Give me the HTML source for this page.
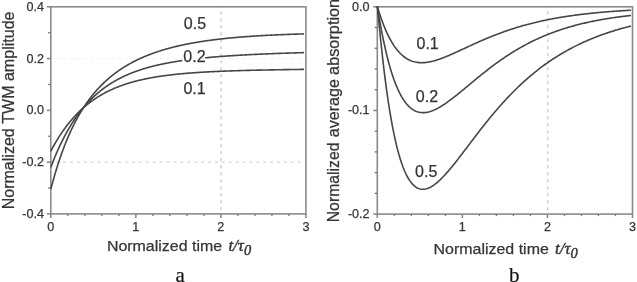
<!DOCTYPE html>
<html><head><meta charset="utf-8"><style>
html,body{margin:0;padding:0;background:#fff;}
body{width:637px;height:282px;overflow:hidden;}
svg{display:block;will-change:transform;}
text{font-kerning:none;font-feature-settings:'kern' 0;stroke:#3a3a3a;stroke-width:0.25px;}
.tl{font-family:"Liberation Sans",sans-serif;font-size:12.6px;fill:#333;}
.cl{font-family:"Liberation Sans",sans-serif;font-size:16px;fill:#333;}
.at{font-family:"Liberation Sans",sans-serif;font-size:15.6px;fill:#333;}
.it{font-family:"Liberation Serif",serif;font-style:italic;font-size:17px;fill:#333;stroke-width:0.45px;}
.pl{font-family:"Liberation Serif",serif;font-size:21px;fill:#111;text-anchor:middle;}
</style></head><body>
<svg width="637" height="282" viewBox="0 0 637 282">
<rect width="637" height="282" fill="#fff"/>
<line x1="50.8" y1="58.57" x2="301.9" y2="58.57" stroke="#f3f3f3" stroke-width="1.2" stroke-dasharray="3 3.9" stroke-dashoffset="1.5"/>
<line x1="50.8" y1="162.13" x2="301.9" y2="162.13" stroke="#d6d6d6" stroke-width="1.2" stroke-dasharray="3 3.9" stroke-dashoffset="1.5"/>
<line x1="221.07" y1="5.8" x2="221.07" y2="213.9" stroke="#c2c2c2" stroke-width="1.2" stroke-dasharray="3 4" stroke-dashoffset="1.5"/>
<line x1="547.73" y1="5.8" x2="547.73" y2="214.1" stroke="#c2c2c2" stroke-width="1.2" stroke-dasharray="3 4" stroke-dashoffset="1.5"/>
<rect x="50.8" y="6.8" width="255.10" height="207.10" fill="none" stroke="#8a8a8a" stroke-width="1.6"/>
<line x1="50.80" y1="213.9" x2="50.80" y2="217.90" stroke="#8a8a8a" stroke-width="1.6"/>
<text x="50.80" y="230.8" text-anchor="middle" class="tl">0</text>
<line x1="67.81" y1="213.9" x2="67.81" y2="215.90" stroke="#7a7a7a" stroke-width="1.3"/>
<line x1="84.81" y1="213.9" x2="84.81" y2="215.90" stroke="#7a7a7a" stroke-width="1.3"/>
<line x1="101.82" y1="213.9" x2="101.82" y2="215.90" stroke="#7a7a7a" stroke-width="1.3"/>
<line x1="118.83" y1="213.9" x2="118.83" y2="215.90" stroke="#7a7a7a" stroke-width="1.3"/>
<line x1="135.83" y1="213.9" x2="135.83" y2="217.90" stroke="#8a8a8a" stroke-width="1.6"/>
<text x="135.83" y="230.8" text-anchor="middle" class="tl">1</text>
<line x1="152.84" y1="213.9" x2="152.84" y2="215.90" stroke="#7a7a7a" stroke-width="1.3"/>
<line x1="169.85" y1="213.9" x2="169.85" y2="215.90" stroke="#7a7a7a" stroke-width="1.3"/>
<line x1="186.85" y1="213.9" x2="186.85" y2="215.90" stroke="#7a7a7a" stroke-width="1.3"/>
<line x1="203.86" y1="213.9" x2="203.86" y2="215.90" stroke="#7a7a7a" stroke-width="1.3"/>
<line x1="220.87" y1="213.9" x2="220.87" y2="217.90" stroke="#8a8a8a" stroke-width="1.6"/>
<text x="220.87" y="230.8" text-anchor="middle" class="tl">2</text>
<line x1="237.87" y1="213.9" x2="237.87" y2="215.90" stroke="#7a7a7a" stroke-width="1.3"/>
<line x1="254.88" y1="213.9" x2="254.88" y2="215.90" stroke="#7a7a7a" stroke-width="1.3"/>
<line x1="271.89" y1="213.9" x2="271.89" y2="215.90" stroke="#7a7a7a" stroke-width="1.3"/>
<line x1="288.89" y1="213.9" x2="288.89" y2="215.90" stroke="#7a7a7a" stroke-width="1.3"/>
<line x1="305.90" y1="213.9" x2="305.90" y2="217.90" stroke="#8a8a8a" stroke-width="1.6"/>
<text x="305.90" y="230.8" text-anchor="middle" class="tl">3</text>
<line x1="46.80" y1="6.80" x2="50.8" y2="6.80" stroke="#8a8a8a" stroke-width="1.6"/>
<text x="43.9" y="10.80" text-anchor="end" class="tl">0.4</text>
<line x1="46.80" y1="58.57" x2="50.8" y2="58.57" stroke="#8a8a8a" stroke-width="1.6"/>
<text x="43.9" y="62.57" text-anchor="end" class="tl">0.2</text>
<line x1="46.80" y1="110.35" x2="50.8" y2="110.35" stroke="#8a8a8a" stroke-width="1.6"/>
<text x="43.9" y="114.35" text-anchor="end" class="tl">0.0</text>
<line x1="46.80" y1="162.13" x2="50.8" y2="162.13" stroke="#8a8a8a" stroke-width="1.6"/>
<text x="43.9" y="166.13" text-anchor="end" class="tl">-0.2</text>
<line x1="46.80" y1="213.90" x2="50.8" y2="213.90" stroke="#8a8a8a" stroke-width="1.6"/>
<text x="43.9" y="217.90" text-anchor="end" class="tl">-0.4</text>
<line x1="48.20" y1="32.69" x2="50.8" y2="32.69" stroke="#747474" stroke-width="1.3"/>
<line x1="48.20" y1="84.46" x2="50.8" y2="84.46" stroke="#747474" stroke-width="1.3"/>
<line x1="48.20" y1="136.24" x2="50.8" y2="136.24" stroke="#747474" stroke-width="1.3"/>
<line x1="48.20" y1="188.01" x2="50.8" y2="188.01" stroke="#747474" stroke-width="1.3"/>
<rect x="377.3" y="6.8" width="255.20" height="207.30" fill="none" stroke="#8a8a8a" stroke-width="1.6"/>
<line x1="377.30" y1="214.1" x2="377.30" y2="218.10" stroke="#8a8a8a" stroke-width="1.6"/>
<text x="377.30" y="230.8" text-anchor="middle" class="tl">0</text>
<line x1="394.31" y1="214.1" x2="394.31" y2="216.10" stroke="#7a7a7a" stroke-width="1.3"/>
<line x1="411.33" y1="214.1" x2="411.33" y2="216.10" stroke="#7a7a7a" stroke-width="1.3"/>
<line x1="428.34" y1="214.1" x2="428.34" y2="216.10" stroke="#7a7a7a" stroke-width="1.3"/>
<line x1="445.35" y1="214.1" x2="445.35" y2="216.10" stroke="#7a7a7a" stroke-width="1.3"/>
<line x1="462.37" y1="214.1" x2="462.37" y2="218.10" stroke="#8a8a8a" stroke-width="1.6"/>
<text x="462.37" y="230.8" text-anchor="middle" class="tl">1</text>
<line x1="479.38" y1="214.1" x2="479.38" y2="216.10" stroke="#7a7a7a" stroke-width="1.3"/>
<line x1="496.39" y1="214.1" x2="496.39" y2="216.10" stroke="#7a7a7a" stroke-width="1.3"/>
<line x1="513.41" y1="214.1" x2="513.41" y2="216.10" stroke="#7a7a7a" stroke-width="1.3"/>
<line x1="530.42" y1="214.1" x2="530.42" y2="216.10" stroke="#7a7a7a" stroke-width="1.3"/>
<line x1="547.43" y1="214.1" x2="547.43" y2="218.10" stroke="#8a8a8a" stroke-width="1.6"/>
<text x="547.43" y="230.8" text-anchor="middle" class="tl">2</text>
<line x1="564.45" y1="214.1" x2="564.45" y2="216.10" stroke="#7a7a7a" stroke-width="1.3"/>
<line x1="581.46" y1="214.1" x2="581.46" y2="216.10" stroke="#7a7a7a" stroke-width="1.3"/>
<line x1="598.47" y1="214.1" x2="598.47" y2="216.10" stroke="#7a7a7a" stroke-width="1.3"/>
<line x1="615.49" y1="214.1" x2="615.49" y2="216.10" stroke="#7a7a7a" stroke-width="1.3"/>
<line x1="632.50" y1="214.1" x2="632.50" y2="218.10" stroke="#8a8a8a" stroke-width="1.6"/>
<text x="632.50" y="230.8" text-anchor="middle" class="tl">3</text>
<line x1="373.30" y1="6.80" x2="377.3" y2="6.80" stroke="#8a8a8a" stroke-width="1.6"/>
<text x="369.6" y="10.80" text-anchor="end" class="tl">0.0</text>
<line x1="373.30" y1="110.45" x2="377.3" y2="110.45" stroke="#8a8a8a" stroke-width="1.6"/>
<text x="369.6" y="114.45" text-anchor="end" class="tl">-0.1</text>
<line x1="373.30" y1="214.10" x2="377.3" y2="214.10" stroke="#8a8a8a" stroke-width="1.6"/>
<text x="369.6" y="218.10" text-anchor="end" class="tl">-0.2</text>
<line x1="374.70" y1="27.53" x2="377.3" y2="27.53" stroke="#747474" stroke-width="1.3"/>
<line x1="374.70" y1="48.26" x2="377.3" y2="48.26" stroke="#747474" stroke-width="1.3"/>
<line x1="374.70" y1="68.99" x2="377.3" y2="68.99" stroke="#747474" stroke-width="1.3"/>
<line x1="374.70" y1="89.72" x2="377.3" y2="89.72" stroke="#747474" stroke-width="1.3"/>
<line x1="374.70" y1="131.18" x2="377.3" y2="131.18" stroke="#747474" stroke-width="1.3"/>
<line x1="374.70" y1="151.91" x2="377.3" y2="151.91" stroke="#747474" stroke-width="1.3"/>
<line x1="374.70" y1="172.64" x2="377.3" y2="172.64" stroke="#747474" stroke-width="1.3"/>
<line x1="374.70" y1="193.37" x2="377.3" y2="193.37" stroke="#747474" stroke-width="1.3"/>
<path d="M51.00,188.51 L51.50,186.60 L52.00,184.72 L52.50,182.87 L53.00,181.04 L53.50,179.24 L54.00,177.48 L54.50,175.73 L55.00,174.02 L55.50,172.33 L56.00,170.66 L56.50,169.02 L57.00,167.41 L57.50,165.81 L58.00,164.25 L58.50,162.70 L59.00,161.18 L59.50,159.68 L60.00,158.20 L60.50,156.74 L61.00,155.31 L61.50,153.89 L62.00,152.50 L62.50,151.13 L63.00,149.77 L63.50,148.44 L64.00,147.12 L64.50,145.82 L65.00,144.55 L65.50,143.29 L66.00,142.04 L66.50,140.82 L67.00,139.61 L67.50,138.42 L68.00,137.24 L68.50,136.08 L69.00,134.94 L69.50,133.81 L70.00,132.70 L70.50,131.61 L71.00,130.53 L71.50,129.46 L72.00,128.41 L72.50,127.37 L73.00,126.34 L73.50,125.33 L74.00,124.34 L74.50,123.35 L75.00,122.38 L75.50,121.43 L76.00,120.48 L76.50,119.55 L77.00,118.63 L77.50,117.72 L78.00,116.82 L78.50,115.94 L79.00,115.06 L79.50,114.20 L80.00,113.35 L80.50,112.51 L81.00,111.68 L81.50,110.86 L82.00,110.05 L82.50,109.25 L83.00,108.47 L83.50,107.69 L84.00,106.92 L84.50,106.16 L85.00,105.41 L85.50,104.67 L86.00,103.94 L86.50,103.22 L87.00,102.50 L87.50,101.80 L88.00,101.10 L88.50,100.41 L89.00,99.73 L89.50,99.06 L90.00,98.40 L90.50,97.75 L91.00,97.10 L91.50,96.46 L92.00,95.83 L92.50,95.20 L93.00,94.59 L93.50,93.98 L94.00,93.37 L94.50,92.78 L95.00,92.19 L95.50,91.61 L96.00,91.03 L96.50,90.46 L97.00,89.90 L97.50,89.35 L98.00,88.80 L98.50,88.26 L99.00,87.72 L99.50,87.19 L100.00,86.66 L100.50,86.15 L101.00,85.63 L101.50,85.13 L102.00,84.63 L102.50,84.13 L103.00,83.64 L103.50,83.15 L104.00,82.68 L104.50,82.20 L105.00,81.73 L105.50,81.27 L106.00,80.81 L106.50,80.36 L107.00,79.91 L107.50,79.46 L108.00,79.03 L108.50,78.59 L109.00,78.16 L109.50,77.74 L110.00,77.32 L110.50,76.90 L111.00,76.49 L111.50,76.08 L112.00,75.68 L112.50,75.28 L113.00,74.89 L113.50,74.50 L114.00,74.11 L114.50,73.73 L115.00,73.35 L115.50,72.98 L116.00,72.61 L116.50,72.24 L117.00,71.88 L117.50,71.52 L118.00,71.16 L118.50,70.81 L119.00,70.46 L119.50,70.12 L120.00,69.78 L120.50,69.44 L121.00,69.11 L121.50,68.78 L122.00,68.45 L122.50,68.12 L123.00,67.80 L123.50,67.49 L124.00,67.17 L124.50,66.86 L125.00,66.55 L125.50,66.25 L126.00,65.95 L126.50,65.65 L127.00,65.35 L127.50,65.06 L128.00,64.77 L128.50,64.48 L129.00,64.19 L129.50,63.91 L130.00,63.63 L130.50,63.36 L131.00,63.08 L131.50,62.81 L132.00,62.54 L132.50,62.28 L133.00,62.01 L133.50,61.75 L134.00,61.50 L134.50,61.24 L135.00,60.99 L135.50,60.74 L136.00,60.49 L136.50,60.24 L137.00,60.00 L137.50,59.76 L138.00,59.52 L138.50,59.28 L139.00,59.04 L139.50,58.81 L140.00,58.58 L140.50,58.35 L141.00,58.13 L141.50,57.90 L142.00,57.68 L142.50,57.46 L143.00,57.24 L143.50,57.03 L144.00,56.82 L144.50,56.60 L145.00,56.39 L145.50,56.19 L146.00,55.98 L146.50,55.78 L147.00,55.57 L147.50,55.37 L148.00,55.18 L148.50,54.98 L149.00,54.78 L149.50,54.59 L150.00,54.40 L150.50,54.21 L151.00,54.02 L151.50,53.84 L152.00,53.65 L152.50,53.47 L153.00,53.29 L153.50,53.11 L154.00,52.93 L154.50,52.75 L155.00,52.58 L155.50,52.41 L156.00,52.24 L156.50,52.07 L157.00,51.90 L157.50,51.73 L158.00,51.56 L158.50,51.40 L159.00,51.24 L159.50,51.08 L160.00,50.92 L160.50,50.76 L161.00,50.60 L161.50,50.45 L162.00,50.29 L162.50,50.14 L163.00,49.99 L163.50,49.84 L164.00,49.69 L164.50,49.54 L165.00,49.40 L165.50,49.25 L166.00,49.11 L166.50,48.97 L167.00,48.83 L167.50,48.69 L168.00,48.55 L168.50,48.41 L169.00,48.27 L169.50,48.14 L170.00,48.00 L170.50,47.87 L171.00,47.74 L171.50,47.61 L172.00,47.48 L172.50,47.35 L173.00,47.23 L173.50,47.10 L174.00,46.98 L174.50,46.85 L175.00,46.73 L175.50,46.61 L176.00,46.49 L176.50,46.37 L177.00,46.25 L177.50,46.13 L178.00,46.02 L178.50,45.90 L179.00,45.79 L179.50,45.67 L180.00,45.56 L180.50,45.45 L181.00,45.34 L181.50,45.23 L182.00,45.12 L182.50,45.01 L183.00,44.91 L183.50,44.80 L184.00,44.69 L184.50,44.59 L185.00,44.49 L185.50,44.38 L186.00,44.28 L186.50,44.18 L187.00,44.08 L187.50,43.98 L188.00,43.89 L188.50,43.79 L189.00,43.69 L189.50,43.60 L190.00,43.50 L190.50,43.41 L191.00,43.32 L191.50,43.22 L192.00,43.13 L192.50,43.04 L193.00,42.95 L193.50,42.86 L194.00,42.77 L194.50,42.69 L195.00,42.60 L195.50,42.51 L196.00,42.43 L196.50,42.34 L197.00,42.26 L197.50,42.17 L198.00,42.09 L198.50,42.01 L199.00,41.93 L199.50,41.85 L200.00,41.77 L200.50,41.69 L201.00,41.61 L201.50,41.53 L202.00,41.45 L202.50,41.38 L203.00,41.30 L203.50,41.23 L204.00,41.15 L204.50,41.08 L205.00,41.00 L205.50,40.93 L206.00,40.86 L206.50,40.79 L207.00,40.72 L207.50,40.64 L208.00,40.58 L208.50,40.51 L209.00,40.44 L209.50,40.37 L210.00,40.30 L210.50,40.23 L211.00,40.17 L211.50,40.10 L212.00,40.04 L212.50,39.97 L213.00,39.91 L213.50,39.84 L214.00,39.78 L214.50,39.72 L215.00,39.66 L215.50,39.59 L216.00,39.53 L216.50,39.47 L217.00,39.41 L217.50,39.35 L218.00,39.29 L218.50,39.23 L219.00,39.18 L219.50,39.12 L220.00,39.06 L220.50,39.00 L221.00,38.95 L221.50,38.89 L222.00,38.84 L222.50,38.78 L223.00,38.73 L223.50,38.67 L224.00,38.62 L224.50,38.57 L225.00,38.51 L225.50,38.46 L226.00,38.41 L226.50,38.36 L227.00,38.31 L227.50,38.26 L228.00,38.21 L228.50,38.16 L229.00,38.11 L229.50,38.06 L230.00,38.01 L230.50,37.96 L231.00,37.92 L231.50,37.87 L232.00,37.82 L232.50,37.78 L233.00,37.73 L233.50,37.68 L234.00,37.64 L234.50,37.59 L235.00,37.55 L235.50,37.50 L236.00,37.46 L236.50,37.42 L237.00,37.37 L237.50,37.33 L238.00,37.29 L238.50,37.25 L239.00,37.20 L239.50,37.16 L240.00,37.12 L240.50,37.08 L241.00,37.04 L241.50,37.00 L242.00,36.96 L242.50,36.92 L243.00,36.88 L243.50,36.84 L244.00,36.81 L244.50,36.77 L245.00,36.73 L245.50,36.69 L246.00,36.65 L246.50,36.62 L247.00,36.58 L247.50,36.55 L248.00,36.51 L248.50,36.47 L249.00,36.44 L249.50,36.40 L250.00,36.37 L250.50,36.33 L251.00,36.30 L251.50,36.27 L252.00,36.23 L252.50,36.20 L253.00,36.16 L253.50,36.13 L254.00,36.10 L254.50,36.07 L255.00,36.04 L255.50,36.00 L256.00,35.97 L256.50,35.94 L257.00,35.91 L257.50,35.88 L258.00,35.85 L258.50,35.82 L259.00,35.79 L259.50,35.76 L260.00,35.73 L260.50,35.70 L261.00,35.67 L261.50,35.64 L262.00,35.61 L262.50,35.58 L263.00,35.56 L263.50,35.53 L264.00,35.50 L264.50,35.47 L265.00,35.45 L265.50,35.42 L266.00,35.39 L266.50,35.37 L267.00,35.34 L267.50,35.31 L268.00,35.29 L268.50,35.26 L269.00,35.24 L269.50,35.21 L270.00,35.19 L270.50,35.16 L271.00,35.14 L271.50,35.11 L272.00,35.09 L272.50,35.06 L273.00,35.04 L273.50,35.02 L274.00,34.99 L274.50,34.97 L275.00,34.95 L275.50,34.92 L276.00,34.90 L276.50,34.88 L277.00,34.86 L277.50,34.83 L278.00,34.81 L278.50,34.79 L279.00,34.77 L279.50,34.75 L280.00,34.73 L280.50,34.70 L281.00,34.68 L281.50,34.66 L282.00,34.64 L282.50,34.62 L283.00,34.60 L283.50,34.58 L284.00,34.56 L284.50,34.54 L285.00,34.52 L285.50,34.50 L286.00,34.48 L286.50,34.46 L287.00,34.45 L287.50,34.43 L288.00,34.41 L288.50,34.39 L289.00,34.37 L289.50,34.35 L290.00,34.33 L290.50,34.32 L291.00,34.30 L291.50,34.28 L292.00,34.26 L292.50,34.25 L293.00,34.23 L293.50,34.21 L294.00,34.20 L294.50,34.18 L295.00,34.16 L295.50,34.15 L296.00,34.13 L296.50,34.11 L297.00,34.10 L297.50,34.08 L298.00,34.07 L298.50,34.05 L299.00,34.03 L299.50,34.02 L300.00,34.00 L300.50,33.99 L301.00,33.97 L301.50,33.96 L302.00,33.94 L302.50,33.93 L303.00,33.91 L303.40,33.90" fill="none" stroke="#464646" stroke-width="1.6" stroke-linecap="round" stroke-linejoin="round"/>
<path d="M51.00,166.82 L51.50,165.50 L52.00,164.20 L52.50,162.91 L53.00,161.64 L53.50,160.39 L54.00,159.15 L54.50,157.93 L55.00,156.72 L55.50,155.52 L56.00,154.35 L56.50,153.18 L57.00,152.03 L57.50,150.89 L58.00,149.77 L58.50,148.66 L59.00,147.57 L59.50,146.49 L60.00,145.42 L60.50,144.37 L61.00,143.33 L61.50,142.30 L62.00,141.28 L62.50,140.28 L63.00,139.29 L63.50,138.31 L64.00,137.34 L64.50,136.38 L65.00,135.44 L65.50,134.51 L66.00,133.59 L66.50,132.68 L67.00,131.78 L67.50,130.89 L68.00,130.02 L68.50,129.15 L69.00,128.30 L69.50,127.45 L70.00,126.62 L70.50,125.79 L71.00,124.98 L71.50,124.17 L72.00,123.38 L72.50,122.59 L73.00,121.82 L73.50,121.05 L74.00,120.29 L74.50,119.55 L75.00,118.81 L75.50,118.08 L76.00,117.36 L76.50,116.64 L77.00,115.94 L77.50,115.25 L78.00,114.56 L78.50,113.88 L79.00,113.21 L79.50,112.55 L80.00,111.89 L80.50,111.25 L81.00,110.61 L81.50,109.98 L82.00,109.35 L82.50,108.74 L83.00,108.13 L83.50,107.53 L84.00,106.93 L84.50,106.35 L85.00,105.77 L85.50,105.19 L86.00,104.63 L86.50,104.07 L87.00,103.51 L87.50,102.97 L88.00,102.43 L88.50,101.89 L89.00,101.36 L89.50,100.84 L90.00,100.33 L90.50,99.82 L91.00,99.32 L91.50,98.82 L92.00,98.33 L92.50,97.84 L93.00,97.36 L93.50,96.89 L94.00,96.42 L94.50,95.96 L95.00,95.50 L95.50,95.05 L96.00,94.60 L96.50,94.16 L97.00,93.73 L97.50,93.29 L98.00,92.87 L98.50,92.45 L99.00,92.03 L99.50,91.62 L100.00,91.21 L100.50,90.81 L101.00,90.41 L101.50,90.02 L102.00,89.63 L102.50,89.25 L103.00,88.87 L103.50,88.49 L104.00,88.12 L104.50,87.76 L105.00,87.39 L105.50,87.04 L106.00,86.68 L106.50,86.33 L107.00,85.99 L107.50,85.65 L108.00,85.31 L108.50,84.97 L109.00,84.64 L109.50,84.32 L110.00,83.99 L110.50,83.68 L111.00,83.36 L111.50,83.05 L112.00,82.74 L112.50,82.43 L113.00,82.13 L113.50,81.84 L114.00,81.54 L114.50,81.25 L115.00,80.96 L115.50,80.68 L116.00,80.39 L116.50,80.12 L117.00,79.84 L117.50,79.57 L118.00,79.30 L118.50,79.03 L119.00,78.77 L119.50,78.51 L120.00,78.25 L120.50,78.00 L121.00,77.75 L121.50,77.50 L122.00,77.25 L122.50,77.01 L123.00,76.77 L123.50,76.53 L124.00,76.29 L124.50,76.06 L125.00,75.83 L125.50,75.60 L126.00,75.38 L126.50,75.15 L127.00,74.93 L127.50,74.72 L128.00,74.50 L128.50,74.29 L129.00,74.08 L129.50,73.87 L130.00,73.66 L130.50,73.46 L131.00,73.26 L131.50,73.06 L132.00,72.86 L132.50,72.66 L133.00,72.47 L133.50,72.28 L134.00,72.09 L134.50,71.90 L135.00,71.72 L135.50,71.53 L136.00,71.35 L136.50,71.17 L137.00,71.00 L137.50,70.82 L138.00,70.65 L138.50,70.47 L139.00,70.30 L139.50,70.14 L140.00,69.97 L140.50,69.80 L141.00,69.64 L141.50,69.48 L142.00,69.32 L142.50,69.16 L143.00,69.01 L143.50,68.85 L144.00,68.70 L144.50,68.55 L145.00,68.40 L145.50,68.25 L146.00,68.10 L146.50,67.96 L147.00,67.81 L147.50,67.67 L148.00,67.53 L148.50,67.39 L149.00,67.25 L149.50,67.12 L150.00,66.98 L150.50,66.85 L151.00,66.71 L151.50,66.58 L152.00,66.45 L152.50,66.32 L153.00,66.20 L153.50,66.07 L154.00,65.95 L154.50,65.82 L155.00,65.70 L155.50,65.58 L156.00,65.46 L156.50,65.34 L157.00,65.22 L157.50,65.11 L158.00,64.99 L158.50,64.88 L159.00,64.77 L159.50,64.66 L160.00,64.54 L160.50,64.44 L161.00,64.33 L161.50,64.22 L162.00,64.11 L162.50,64.01 L163.00,63.90 L163.50,63.80 L164.00,63.70 L164.50,63.60 L165.00,63.50 L165.50,63.40 L166.00,63.30 L166.50,63.20 L167.00,63.11 L167.50,63.01 L168.00,62.92 L168.50,62.82 L169.00,62.73 L169.50,62.64 L170.00,62.55 L170.50,62.46 L171.00,62.37 L171.50,62.28 L172.00,62.19 L172.50,62.10 L173.00,62.02 L173.50,61.93 L174.00,61.85 L174.50,61.76 L175.00,61.68 L175.50,61.60 L176.00,61.52 L176.50,61.44 L177.00,61.36 L177.50,61.28 L178.00,61.20 L178.50,61.12 L179.00,61.04 L179.50,60.97 L180.00,60.89 L180.50,60.82 L181.00,60.74 L181.50,60.67 L181.60,60.65" fill="none" stroke="#464646" stroke-width="1.6" stroke-linecap="round" stroke-linejoin="round"/>
<path d="M205.60,57.79 L206.60,57.69 L207.60,57.59 L208.60,57.50 L209.60,57.41 L210.60,57.32 L211.60,57.23 L212.60,57.14 L213.60,57.06 L214.60,56.97 L215.60,56.89 L216.60,56.81 L217.60,56.73 L218.60,56.65 L219.60,56.57 L220.60,56.49 L221.60,56.41 L222.60,56.34 L223.60,56.26 L224.60,56.19 L225.60,56.12 L226.60,56.05 L227.60,55.98 L228.60,55.91 L229.60,55.84 L230.60,55.78 L231.60,55.71 L232.60,55.65 L233.60,55.58 L234.60,55.52 L235.60,55.46 L236.60,55.39 L237.60,55.33 L238.60,55.27 L239.60,55.22 L240.60,55.16 L241.60,55.10 L242.60,55.04 L243.60,54.99 L244.60,54.93 L245.60,54.88 L246.60,54.83 L247.60,54.77 L248.60,54.72 L249.60,54.67 L250.60,54.62 L251.60,54.57 L252.60,54.52 L253.60,54.47 L254.60,54.42 L255.60,54.37 L256.60,54.33 L257.60,54.28 L258.60,54.23 L259.60,54.19 L260.60,54.14 L261.60,54.10 L262.60,54.06 L263.60,54.01 L264.60,53.97 L265.60,53.93 L266.60,53.89 L267.60,53.85 L268.60,53.81 L269.60,53.77 L270.60,53.73 L271.60,53.69 L272.60,53.65 L273.60,53.61 L274.60,53.57 L275.60,53.53 L276.60,53.50 L277.60,53.46 L278.60,53.42 L279.60,53.39 L280.60,53.35 L281.60,53.32 L282.60,53.28 L283.60,53.25 L284.60,53.22 L285.60,53.18 L286.60,53.15 L287.60,53.12 L288.60,53.09 L289.60,53.05 L290.60,53.02 L291.60,52.99 L292.60,52.96 L293.60,52.93 L294.60,52.90 L295.60,52.87 L296.60,52.84 L297.60,52.81 L298.60,52.78 L299.60,52.75 L300.60,52.73 L301.60,52.70 L302.60,52.67 L303.40,52.65" fill="none" stroke="#464646" stroke-width="1.6" stroke-linecap="round" stroke-linejoin="round"/>
<path d="M51.00,150.75 L51.50,149.80 L52.00,148.87 L52.50,147.95 L53.00,147.03 L53.50,146.13 L54.00,145.24 L54.50,144.36 L55.00,143.49 L55.50,142.64 L56.00,141.79 L56.50,140.95 L57.00,140.12 L57.50,139.30 L58.00,138.49 L58.50,137.69 L59.00,136.90 L59.50,136.12 L60.00,135.35 L60.50,134.58 L61.00,133.83 L61.50,133.09 L62.00,132.35 L62.50,131.62 L63.00,130.90 L63.50,130.19 L64.00,129.49 L64.50,128.80 L65.00,128.11 L65.50,127.43 L66.00,126.76 L66.50,126.10 L67.00,125.45 L67.50,124.80 L68.00,124.16 L68.50,123.53 L69.00,122.91 L69.50,122.29 L70.00,121.68 L70.50,121.08 L71.00,120.48 L71.50,119.90 L72.00,119.31 L72.50,118.74 L73.00,118.17 L73.50,117.61 L74.00,117.06 L74.50,116.51 L75.00,115.97 L75.50,115.43 L76.00,114.91 L76.50,114.38 L77.00,113.87 L77.50,113.36 L78.00,112.85 L78.50,112.35 L79.00,111.86 L79.50,111.37 L80.00,110.89 L80.50,110.42 L81.00,109.95 L81.50,109.48 L82.00,109.03 L82.50,108.57 L83.00,108.12 L83.50,107.68 L84.00,107.24 L84.50,106.81 L85.00,106.38 L85.50,105.96 L86.00,105.54 L86.50,105.13 L87.00,104.72 L87.50,104.32 L88.00,103.92 L88.50,103.53 L89.00,103.14 L89.50,102.76 L90.00,102.38 L90.50,102.00 L91.00,101.63 L91.50,101.26 L92.00,100.90 L92.50,100.54 L93.00,100.19 L93.50,99.84 L94.00,99.49 L94.50,99.15 L95.00,98.81 L95.50,98.48 L96.00,98.15 L96.50,97.82 L97.00,97.50 L97.50,97.18 L98.00,96.87 L98.50,96.56 L99.00,96.25 L99.50,95.95 L100.00,95.64 L100.50,95.35 L101.00,95.05 L101.50,94.76 L102.00,94.48 L102.50,94.20 L103.00,93.92 L103.50,93.64 L104.00,93.37 L104.50,93.09 L105.00,92.83 L105.50,92.56 L106.00,92.30 L106.50,92.05 L107.00,91.79 L107.50,91.54 L108.00,91.29 L108.50,91.04 L109.00,90.80 L109.50,90.56 L110.00,90.32 L110.50,90.09 L111.00,89.86 L111.50,89.63 L112.00,89.40 L112.50,89.18 L113.00,88.95 L113.50,88.73 L114.00,88.52 L114.50,88.30 L115.00,88.09 L115.50,87.88 L116.00,87.68 L116.50,87.47 L117.00,87.27 L117.50,87.07 L118.00,86.88 L118.50,86.68 L119.00,86.49 L119.50,86.30 L120.00,86.11 L120.50,85.92 L121.00,85.74 L121.50,85.56 L122.00,85.38 L122.50,85.20 L123.00,85.03 L123.50,84.85 L124.00,84.68 L124.50,84.51 L125.00,84.34 L125.50,84.18 L126.00,84.01 L126.50,83.85 L127.00,83.69 L127.50,83.53 L128.00,83.38 L128.50,83.22 L129.00,83.07 L129.50,82.92 L130.00,82.77 L130.50,82.62 L131.00,82.48 L131.50,82.33 L132.00,82.19 L132.50,82.05 L133.00,81.91 L133.50,81.77 L134.00,81.64 L134.50,81.50 L135.00,81.37 L135.50,81.24 L136.00,81.11 L136.50,80.98 L137.00,80.85 L137.50,80.73 L138.00,80.60 L138.50,80.48 L139.00,80.36 L139.50,80.24 L140.00,80.12 L140.50,80.00 L141.00,79.89 L141.50,79.77 L142.00,79.66 L142.50,79.55 L143.00,79.44 L143.50,79.33 L144.00,79.22 L144.50,79.11 L145.00,79.01 L145.50,78.90 L146.00,78.80 L146.50,78.70 L147.00,78.60 L147.50,78.50 L148.00,78.40 L148.50,78.30 L149.00,78.20 L149.50,78.11 L150.00,78.01 L150.50,77.92 L151.00,77.83 L151.50,77.74 L152.00,77.65 L152.50,77.56 L153.00,77.47 L153.50,77.38 L154.00,77.30 L154.50,77.21 L155.00,77.13 L155.50,77.04 L156.00,76.96 L156.50,76.88 L157.00,76.80 L157.50,76.72 L158.00,76.64 L158.50,76.56 L159.00,76.49 L159.50,76.41 L160.00,76.34 L160.50,76.26 L161.00,76.19 L161.50,76.12 L162.00,76.04 L162.50,75.97 L163.00,75.90 L163.50,75.83 L164.00,75.76 L164.50,75.70 L165.00,75.63 L165.50,75.56 L166.00,75.50 L166.50,75.43 L167.00,75.37 L167.50,75.30 L168.00,75.24 L168.50,75.18 L169.00,75.12 L169.50,75.05 L170.00,74.99 L170.50,74.94 L171.00,74.88 L171.50,74.82 L172.00,74.76 L172.50,74.70 L173.00,74.65 L173.50,74.59 L174.00,74.54 L174.50,74.48 L175.00,74.43 L175.50,74.37 L176.00,74.32 L176.50,74.27 L177.00,74.22 L177.50,74.17 L178.00,74.12 L178.50,74.07 L179.00,74.02 L179.50,73.97 L180.00,73.92 L180.50,73.87 L181.00,73.82 L181.50,73.78 L182.00,73.73 L182.50,73.68 L183.00,73.64 L183.50,73.59 L184.00,73.55 L184.50,73.51 L185.00,73.46 L185.50,73.42 L186.00,73.38 L186.50,73.34 L187.00,73.29 L187.50,73.25 L188.00,73.21 L188.50,73.17 L189.00,73.13 L189.50,73.09 L190.00,73.05 L190.50,73.01 L191.00,72.98 L191.50,72.94 L192.00,72.90 L192.50,72.86 L193.00,72.83 L193.50,72.79 L194.00,72.75 L194.50,72.72 L195.00,72.68 L195.50,72.65 L196.00,72.61 L196.50,72.58 L197.00,72.55 L197.50,72.51 L198.00,72.48 L198.50,72.45 L199.00,72.42 L199.50,72.38 L200.00,72.35 L200.50,72.32 L201.00,72.29 L201.50,72.26 L202.00,72.23 L202.50,72.20 L203.00,72.17 L203.50,72.14 L204.00,72.11 L204.50,72.08 L205.00,72.05 L205.50,72.02 L206.00,72.00 L206.50,71.97 L207.00,71.94 L207.50,71.91 L208.00,71.89 L208.50,71.86 L209.00,71.83 L209.50,71.81 L210.00,71.78 L210.50,71.76 L211.00,71.73 L211.50,71.71 L212.00,71.68 L212.50,71.66 L213.00,71.63 L213.50,71.61 L214.00,71.58 L214.50,71.56 L215.00,71.54 L215.50,71.51 L216.00,71.49 L216.50,71.47 L217.00,71.44 L217.50,71.42 L218.00,71.40 L218.50,71.38 L219.00,71.36 L219.50,71.33 L220.00,71.31 L220.50,71.29 L221.00,71.27 L221.50,71.25 L222.00,71.23 L222.50,71.21 L223.00,71.19 L223.50,71.17 L224.00,71.15 L224.50,71.13 L225.00,71.11 L225.50,71.09 L226.00,71.07 L226.50,71.05 L227.00,71.04 L227.50,71.02 L228.00,71.00 L228.50,70.98 L229.00,70.96 L229.50,70.94 L230.00,70.93 L230.50,70.91 L231.00,70.89 L231.50,70.87 L232.00,70.86 L232.50,70.84 L233.00,70.82 L233.50,70.81 L234.00,70.79 L234.50,70.77 L235.00,70.76 L235.50,70.74 L236.00,70.73 L236.50,70.71 L237.00,70.69 L237.50,70.68 L238.00,70.66 L238.50,70.65 L239.00,70.63 L239.50,70.62 L240.00,70.60 L240.50,70.59 L241.00,70.57 L241.50,70.56 L242.00,70.55 L242.50,70.53 L243.00,70.52 L243.50,70.50 L244.00,70.49 L244.50,70.48 L245.00,70.46 L245.50,70.45 L246.00,70.44 L246.50,70.42 L247.00,70.41 L247.50,70.40 L248.00,70.38 L248.50,70.37 L249.00,70.36 L249.50,70.34 L250.00,70.33 L250.50,70.32 L251.00,70.31 L251.50,70.29 L252.00,70.28 L252.50,70.27 L253.00,70.26 L253.50,70.25 L254.00,70.23 L254.50,70.22 L255.00,70.21 L255.50,70.20 L256.00,70.19 L256.50,70.18 L257.00,70.17 L257.50,70.15 L258.00,70.14 L258.50,70.13 L259.00,70.12 L259.50,70.11 L260.00,70.10 L260.50,70.09 L261.00,70.08 L261.50,70.07 L262.00,70.06 L262.50,70.05 L263.00,70.04 L263.50,70.03 L264.00,70.02 L264.50,70.01 L265.00,70.00 L265.50,69.99 L266.00,69.98 L266.50,69.97 L267.00,69.96 L267.50,69.95 L268.00,69.94 L268.50,69.93 L269.00,69.92 L269.50,69.91 L270.00,69.90 L270.50,69.89 L271.00,69.88 L271.50,69.87 L272.00,69.86 L272.50,69.85 L273.00,69.84 L273.50,69.83 L274.00,69.83 L274.50,69.82 L275.00,69.81 L275.50,69.80 L276.00,69.79 L276.50,69.78 L277.00,69.77 L277.50,69.76 L278.00,69.76 L278.50,69.75 L279.00,69.74 L279.50,69.73 L280.00,69.72 L280.50,69.71 L281.00,69.71 L281.50,69.70 L282.00,69.69 L282.50,69.68 L283.00,69.67 L283.50,69.67 L284.00,69.66 L284.50,69.65 L285.00,69.64 L285.50,69.64 L286.00,69.63 L286.50,69.62 L287.00,69.61 L287.50,69.60 L288.00,69.60 L288.50,69.59 L289.00,69.58 L289.50,69.57 L290.00,69.57 L290.50,69.56 L291.00,69.55 L291.50,69.55 L292.00,69.54 L292.50,69.53 L293.00,69.52 L293.50,69.52 L294.00,69.51 L294.50,69.50 L295.00,69.50 L295.50,69.49 L296.00,69.48 L296.50,69.47 L297.00,69.47 L297.50,69.46 L298.00,69.45 L298.50,69.45 L299.00,69.44 L299.50,69.43 L300.00,69.43 L300.50,69.42 L301.00,69.41 L301.50,69.41 L302.00,69.40 L302.50,69.39 L303.00,69.39 L303.40,69.38" fill="none" stroke="#464646" stroke-width="1.6" stroke-linecap="round" stroke-linejoin="round"/>
<path d="M377.40,6.80 L377.50,7.84 L377.60,8.89 L377.70,9.93 L377.80,10.98 L377.90,12.02 L378.00,13.06 L378.10,14.10 L378.20,15.14 L378.30,16.18 L378.40,17.21 L378.50,18.24 L378.60,19.28 L378.70,20.30 L378.80,21.33 L378.90,22.36 L379.00,23.38 L379.10,24.40 L379.20,25.41 L379.30,26.42 L379.40,27.43 L379.50,28.44 L379.60,29.45 L379.70,30.45 L379.80,31.44 L379.90,32.44 L380.00,33.43 L380.10,34.41 L380.20,35.40 L380.30,36.37 L380.40,37.35 L380.50,38.32 L380.60,39.29 L380.70,40.25 L380.80,41.21 L380.90,42.17 L381.00,43.12 L381.10,44.07 L381.20,45.02 L381.30,45.96 L381.40,46.89 L381.65,49.22 L381.90,51.52 L382.15,53.79 L382.40,56.04 L382.65,58.26 L382.90,60.45 L383.15,62.62 L383.40,64.77 L383.65,66.88 L383.90,68.98 L384.15,71.04 L384.40,73.08 L384.65,75.10 L384.90,77.09 L385.15,79.06 L385.40,81.00 L385.65,82.91 L385.90,84.81 L386.15,86.67 L386.40,88.52 L386.65,90.34 L386.90,92.13 L387.15,93.91 L387.40,95.66 L387.65,97.38 L387.90,99.09 L388.15,100.77 L388.40,102.42 L388.65,104.06 L388.90,105.68 L389.15,107.27 L389.40,108.84 L389.65,110.39 L389.90,111.91 L390.15,113.42 L390.40,114.91 L390.65,116.37 L390.90,117.82 L391.15,119.24 L391.40,120.65 L391.65,122.03 L391.90,123.40 L392.15,124.74 L392.40,126.07 L392.65,127.38 L392.90,128.67 L393.15,129.94 L393.40,131.19 L393.65,132.42 L393.90,133.64 L394.15,134.83 L394.40,136.01 L394.65,137.17 L394.90,138.32 L395.15,139.45 L395.40,140.55 L395.65,141.65 L395.90,142.72 L396.15,143.78 L396.40,144.83 L396.65,145.85 L396.90,146.87 L397.15,147.86 L397.40,148.84 L398.40,152.60 L399.40,156.13 L400.40,159.42 L401.40,162.49 L402.40,165.35 L403.40,168.01 L404.40,170.47 L405.40,172.75 L406.40,174.84 L407.40,176.77 L408.40,178.53 L409.40,180.13 L410.40,181.58 L411.40,182.88 L412.40,184.05 L413.40,185.09 L414.40,185.99 L415.40,186.78 L416.40,187.45 L417.40,188.01 L418.40,188.46 L419.40,188.81 L420.40,189.07 L421.40,189.23 L422.40,189.30 L423.40,189.29 L424.40,189.20 L425.40,189.04 L426.40,188.80 L427.40,188.49 L428.40,188.12 L429.40,187.68 L430.40,187.18 L431.40,186.63 L432.40,186.02 L433.40,185.36 L434.40,184.66 L435.40,183.91 L436.40,183.11 L437.40,182.28 L438.40,181.40 L439.40,180.49 L440.40,179.55 L441.40,178.57 L442.40,177.56 L443.40,176.52 L444.40,175.46 L445.40,174.37 L446.40,173.26 L447.40,172.13 L448.40,170.97 L449.40,169.80 L450.40,168.61 L451.40,167.41 L452.40,166.19 L453.40,164.95 L454.40,163.71 L455.40,162.45 L456.40,161.18 L457.40,159.90 L458.40,158.62 L459.40,157.32 L460.40,156.03 L461.40,154.72 L462.40,153.41 L463.40,152.10 L464.40,150.78 L465.40,149.47 L466.40,148.15 L467.40,146.83 L468.40,145.50 L469.40,144.18 L470.40,142.86 L471.40,141.54 L472.40,140.23 L473.40,138.91 L474.40,137.60 L475.40,136.29 L476.40,134.99 L477.40,133.69 L478.40,132.39 L479.40,131.10 L480.40,129.81 L481.40,128.53 L482.40,127.26 L483.40,125.99 L484.40,124.73 L485.40,123.47 L486.40,122.23 L487.40,120.98 L488.40,119.75 L489.40,118.52 L490.40,117.31 L491.40,116.09 L492.40,114.89 L493.40,113.70 L494.40,112.51 L495.40,111.33 L496.40,110.17 L497.40,109.01 L498.40,107.85 L499.40,106.71 L500.40,105.58 L501.40,104.46 L502.40,103.34 L503.40,102.23 L504.40,101.14 L505.40,100.05 L506.40,98.97 L507.40,97.91 L508.40,96.85 L509.40,95.80 L510.40,94.76 L511.40,93.73 L512.40,92.71 L513.40,91.70 L514.40,90.70 L515.40,89.71 L516.40,88.72 L517.40,87.75 L518.40,86.79 L519.40,85.83 L520.40,84.89 L521.40,83.96 L522.40,83.03 L523.40,82.11 L524.40,81.21 L525.40,80.31 L526.40,79.42 L527.40,78.54 L528.40,77.68 L529.40,76.81 L530.40,75.96 L531.40,75.12 L532.40,74.29 L533.40,73.47 L534.40,72.65 L535.40,71.84 L536.40,71.05 L537.40,70.26 L538.40,69.48 L539.40,68.71 L540.40,67.94 L541.40,67.19 L542.40,66.44 L543.40,65.71 L544.40,64.98 L545.40,64.26 L546.40,63.54 L547.40,62.84 L548.40,62.14 L549.40,61.45 L550.40,60.77 L551.40,60.10 L552.40,59.44 L553.40,58.78 L554.40,58.13 L555.40,57.49 L556.40,56.85 L557.40,56.23 L558.40,55.61 L559.40,54.99 L560.40,54.39 L561.40,53.79 L562.40,53.20 L563.40,52.62 L564.40,52.04 L565.40,51.47 L566.40,50.90 L567.40,50.35 L568.40,49.80 L569.40,49.26 L570.40,48.72 L571.40,48.19 L572.40,47.66 L573.40,47.15 L574.40,46.64 L575.40,46.13 L576.40,45.63 L577.40,45.14 L578.40,44.65 L579.40,44.17 L580.40,43.70 L581.40,43.23 L582.40,42.76 L583.40,42.31 L584.40,41.85 L585.40,41.41 L586.40,40.97 L587.40,40.53 L588.40,40.10 L589.40,39.68 L590.40,39.26 L591.40,38.84 L592.40,38.43 L593.40,38.03 L594.40,37.63 L595.40,37.24 L596.40,36.85 L597.40,36.46 L598.40,36.08 L599.40,35.71 L600.40,35.34 L601.40,34.97 L602.40,34.61 L603.40,34.25 L604.40,33.90 L605.40,33.55 L606.40,33.21 L607.40,32.87 L608.40,32.54 L609.40,32.21 L610.40,31.88 L611.40,31.56 L612.40,31.24 L613.40,30.93 L614.40,30.62 L615.40,30.31 L616.40,30.01 L617.40,29.71 L618.40,29.41 L619.40,29.12 L620.40,28.84 L621.40,28.55 L622.40,28.27 L623.40,28.00 L624.40,27.72 L625.40,27.45 L626.40,27.19 L627.40,26.92 L628.40,26.67 L629.40,26.41 L630.40,26.16" fill="none" stroke="#464646" stroke-width="1.6" stroke-linecap="round" stroke-linejoin="round"/>
<path d="M377.40,6.80 L377.50,7.43 L377.60,8.06 L377.70,8.69 L377.80,9.31 L377.90,9.93 L378.00,10.55 L378.10,11.17 L378.20,11.78 L378.30,12.39 L378.40,13.00 L378.50,13.60 L378.60,14.20 L378.70,14.80 L378.80,15.40 L378.90,15.99 L379.00,16.58 L379.10,17.17 L379.20,17.76 L379.30,18.34 L379.40,18.92 L379.50,19.50 L379.60,20.08 L379.70,20.65 L379.80,21.22 L379.90,21.79 L380.00,22.35 L380.10,22.91 L380.20,23.47 L380.30,24.03 L380.40,24.59 L380.50,25.14 L380.60,25.69 L380.70,26.23 L380.80,26.78 L380.90,27.32 L381.00,27.86 L381.10,28.40 L381.20,28.93 L381.30,29.47 L381.40,29.99 L381.65,31.31 L381.90,32.61 L382.15,33.89 L382.40,35.16 L382.65,36.41 L382.90,37.65 L383.15,38.88 L383.40,40.09 L383.65,41.28 L383.90,42.47 L384.15,43.63 L384.40,44.79 L384.65,45.93 L384.90,47.05 L385.15,48.17 L385.40,49.26 L385.65,50.35 L385.90,51.42 L386.15,52.48 L386.40,53.53 L386.65,54.56 L386.90,55.58 L387.15,56.59 L387.40,57.59 L387.65,58.57 L387.90,59.54 L388.15,60.50 L388.40,61.45 L388.65,62.38 L388.90,63.30 L389.15,64.21 L389.40,65.11 L389.65,66.00 L389.90,66.87 L390.15,67.74 L390.40,68.59 L390.65,69.43 L390.90,70.26 L391.15,71.08 L391.40,71.89 L391.65,72.69 L391.90,73.48 L392.15,74.25 L392.40,75.02 L392.65,75.78 L392.90,76.52 L393.15,77.26 L393.40,77.98 L393.65,78.69 L393.90,79.40 L394.15,80.09 L394.40,80.78 L394.65,81.45 L394.90,82.12 L395.15,82.78 L395.40,83.42 L395.65,84.06 L395.90,84.69 L396.15,85.31 L396.40,85.92 L396.65,86.52 L396.90,87.11 L397.15,87.69 L397.40,88.26 L398.40,90.47 L399.40,92.55 L400.40,94.49 L401.40,96.31 L402.40,98.01 L403.40,99.59 L404.40,101.06 L405.40,102.43 L406.40,103.69 L407.40,104.85 L408.40,105.91 L409.40,106.89 L410.40,107.77 L411.40,108.57 L412.40,109.29 L413.40,109.92 L414.40,110.49 L415.40,110.98 L416.40,111.40 L417.40,111.75 L418.40,112.04 L419.40,112.27 L420.40,112.44 L421.40,112.55 L422.40,112.61 L423.40,112.62 L424.40,112.58 L425.40,112.49 L426.40,112.35 L427.40,112.17 L428.40,111.96 L429.40,111.70 L430.40,111.40 L431.40,111.07 L432.40,110.71 L433.40,110.31 L434.40,109.88 L435.40,109.42 L436.40,108.94 L437.40,108.43 L438.40,107.89 L439.40,107.33 L440.40,106.75 L441.40,106.15 L442.40,105.53 L443.40,104.88 L444.40,104.23 L445.40,103.55 L446.40,102.86 L447.40,102.15 L448.40,101.44 L449.40,100.71 L450.40,99.96 L451.40,99.21 L452.40,98.45 L453.40,97.67 L454.40,96.89 L455.40,96.10 L456.40,95.31 L457.40,94.51 L458.40,93.70 L459.40,92.89 L460.40,92.07 L461.40,91.25 L462.40,90.42 L463.40,89.60 L464.40,88.77 L465.40,87.94 L466.40,87.11 L467.40,86.27 L468.40,85.44 L469.40,84.61 L470.40,83.78 L471.40,82.94 L472.40,82.11 L473.40,81.29 L474.40,80.46 L475.40,79.63 L476.40,78.81 L477.40,77.99 L478.40,77.17 L479.40,76.36 L480.40,75.55 L481.40,74.74 L482.40,73.94 L483.40,73.14 L484.40,72.35 L485.40,71.56 L486.40,70.78 L487.40,70.00 L488.40,69.22 L489.40,68.45 L490.40,67.69 L491.40,66.93 L492.40,66.18 L493.40,65.43 L494.40,64.69 L495.40,63.95 L496.40,63.22 L497.40,62.50 L498.40,61.78 L499.40,61.07 L500.40,60.37 L501.40,59.67 L502.40,58.98 L503.40,58.29 L504.40,57.61 L505.40,56.94 L506.40,56.28 L507.40,55.62 L508.40,54.97 L509.40,54.32 L510.40,53.68 L511.40,53.05 L512.40,52.42 L513.40,51.80 L514.40,51.19 L515.40,50.59 L516.40,49.99 L517.40,49.39 L518.40,48.81 L519.40,48.23 L520.40,47.66 L521.40,47.09 L522.40,46.53 L523.40,45.98 L524.40,45.44 L525.40,44.90 L526.40,44.37 L527.40,43.84 L528.40,43.32 L529.40,42.81 L530.40,42.30 L531.40,41.80 L532.40,41.30 L533.40,40.82 L534.40,40.34 L535.40,39.86 L536.40,39.39 L537.40,38.93 L538.40,38.47 L539.40,38.02 L540.40,37.57 L541.40,37.13 L542.40,36.70 L543.40,36.27 L544.40,35.85 L545.40,35.44 L546.40,35.03 L547.40,34.62 L548.40,34.22 L549.40,33.83 L550.40,33.44 L551.40,33.06 L552.40,32.68 L553.40,32.31 L554.40,31.94 L555.40,31.58 L556.40,31.22 L557.40,30.87 L558.40,30.52 L559.40,30.18 L560.40,29.84 L561.40,29.51 L562.40,29.19 L563.40,28.86 L564.40,28.55 L565.40,28.23 L566.40,27.92 L567.40,27.62 L568.40,27.32 L569.40,27.03 L570.40,26.74 L571.40,26.45 L572.40,26.17 L573.40,25.89 L574.40,25.62 L575.40,25.35 L576.40,25.08 L577.40,24.82 L578.40,24.56 L579.40,24.31 L580.40,24.06 L581.40,23.81 L582.40,23.57 L583.40,23.33 L584.40,23.10 L585.40,22.87 L586.40,22.64 L587.40,22.42 L588.40,22.20 L589.40,21.98 L590.40,21.77 L591.40,21.56 L592.40,21.35 L593.40,21.14 L594.40,20.94 L595.40,20.75 L596.40,20.55 L597.40,20.36 L598.40,20.17 L599.40,19.99 L600.40,19.81 L601.40,19.63 L602.40,19.45 L603.40,19.28 L604.40,19.11 L605.40,18.94 L606.40,18.77 L607.40,18.61 L608.40,18.45 L609.40,18.29 L610.40,18.14 L611.40,17.98 L612.40,17.83 L613.40,17.69 L614.40,17.54 L615.40,17.40 L616.40,17.26 L617.40,17.12 L618.40,16.98 L619.40,16.85 L620.40,16.72 L621.40,16.59 L622.40,16.46 L623.40,16.34 L624.40,16.21 L625.40,16.09 L626.40,15.97 L627.40,15.85 L628.40,15.74 L629.40,15.63 L630.40,15.51" fill="none" stroke="#464646" stroke-width="1.6" stroke-linecap="round" stroke-linejoin="round"/>
<path d="M377.40,6.80 L377.50,7.13 L377.60,7.46 L377.70,7.79 L377.80,8.12 L377.90,8.45 L378.00,8.78 L378.10,9.10 L378.20,9.42 L378.30,9.75 L378.40,10.07 L378.50,10.38 L378.60,10.70 L378.70,11.02 L378.80,11.33 L378.90,11.65 L379.00,11.96 L379.10,12.27 L379.20,12.58 L379.30,12.89 L379.40,13.20 L379.50,13.50 L379.60,13.81 L379.70,14.11 L379.80,14.41 L379.90,14.71 L380.00,15.01 L380.10,15.31 L380.20,15.61 L380.30,15.90 L380.40,16.19 L380.50,16.49 L380.60,16.78 L380.70,17.07 L380.80,17.36 L380.90,17.65 L381.00,17.93 L381.10,18.22 L381.20,18.50 L381.30,18.78 L381.40,19.07 L381.65,19.76 L381.90,20.45 L382.15,21.14 L382.40,21.81 L382.65,22.48 L382.90,23.14 L383.15,23.79 L383.40,24.44 L383.65,25.07 L383.90,25.70 L384.15,26.33 L384.40,26.94 L384.65,27.55 L384.90,28.15 L385.15,28.75 L385.40,29.34 L385.65,29.92 L385.90,30.49 L386.15,31.06 L386.40,31.62 L386.65,32.17 L386.90,32.72 L387.15,33.25 L387.40,33.79 L387.65,34.31 L387.90,34.83 L388.15,35.35 L388.40,35.86 L388.65,36.36 L388.90,36.85 L389.15,37.34 L389.40,37.82 L389.65,38.30 L389.90,38.77 L390.15,39.23 L390.40,39.69 L390.65,40.14 L390.90,40.58 L391.15,41.02 L391.40,41.46 L391.65,41.89 L391.90,42.31 L392.15,42.72 L392.40,43.14 L392.65,43.54 L392.90,43.94 L393.15,44.33 L393.40,44.72 L393.65,45.11 L393.90,45.48 L394.15,45.86 L394.40,46.22 L394.65,46.59 L394.90,46.94 L395.15,47.29 L395.40,47.64 L395.65,47.98 L395.90,48.32 L396.15,48.65 L396.40,48.97 L396.65,49.30 L396.90,49.61 L397.15,49.92 L397.40,50.23 L398.40,51.41 L399.40,52.52 L400.40,53.55 L401.40,54.52 L402.40,55.42 L403.40,56.25 L404.40,57.02 L405.40,57.74 L406.40,58.40 L407.40,59.00 L408.40,59.55 L409.40,60.04 L410.40,60.49 L411.40,60.89 L412.40,61.25 L413.40,61.56 L414.40,61.83 L415.40,62.06 L416.40,62.25 L417.40,62.41 L418.40,62.53 L419.40,62.61 L420.40,62.67 L421.40,62.69 L422.40,62.68 L423.40,62.64 L424.40,62.58 L425.40,62.49 L426.40,62.38 L427.40,62.24 L428.40,62.08 L429.40,61.90 L430.40,61.70 L431.40,61.48 L432.40,61.24 L433.40,60.99 L434.40,60.71 L435.40,60.43 L436.40,60.13 L437.40,59.81 L438.40,59.48 L439.40,59.14 L440.40,58.79 L441.40,58.43 L442.40,58.06 L443.40,57.67 L444.40,57.28 L445.40,56.88 L446.40,56.48 L447.40,56.06 L448.40,55.64 L449.40,55.22 L450.40,54.79 L451.40,54.35 L452.40,53.91 L453.40,53.47 L454.40,53.02 L455.40,52.57 L456.40,52.11 L457.40,51.66 L458.40,51.20 L459.40,50.74 L460.40,50.28 L461.40,49.81 L462.40,49.35 L463.40,48.89 L464.40,48.42 L465.40,47.96 L466.40,47.49 L467.40,47.03 L468.40,46.57 L469.40,46.11 L470.40,45.64 L471.40,45.19 L472.40,44.73 L473.40,44.27 L474.40,43.82 L475.40,43.37 L476.40,42.92 L477.40,42.47 L478.40,42.02 L479.40,41.58 L480.40,41.14 L481.40,40.70 L482.40,40.27 L483.40,39.84 L484.40,39.41 L485.40,38.98 L486.40,38.56 L487.40,38.14 L488.40,37.73 L489.40,37.31 L490.40,36.91 L491.40,36.50 L492.40,36.10 L493.40,35.70 L494.40,35.31 L495.40,34.92 L496.40,34.53 L497.40,34.15 L498.40,33.77 L499.40,33.40 L500.40,33.02 L501.40,32.66 L502.40,32.29 L503.40,31.93 L504.40,31.58 L505.40,31.23 L506.40,30.88 L507.40,30.53 L508.40,30.19 L509.40,29.86 L510.40,29.53 L511.40,29.20 L512.40,28.87 L513.40,28.55 L514.40,28.24 L515.40,27.92 L516.40,27.61 L517.40,27.31 L518.40,27.01 L519.40,26.71 L520.40,26.41 L521.40,26.12 L522.40,25.84 L523.40,25.55 L524.40,25.27 L525.40,25.00 L526.40,24.73 L527.40,24.46 L528.40,24.19 L529.40,23.93 L530.40,23.67 L531.40,23.42 L532.40,23.17 L533.40,22.92 L534.40,22.67 L535.40,22.43 L536.40,22.20 L537.40,21.96 L538.40,21.73 L539.40,21.50 L540.40,21.28 L541.40,21.06 L542.40,20.84 L543.40,20.62 L544.40,20.41 L545.40,20.20 L546.40,19.99 L547.40,19.79 L548.40,19.59 L549.40,19.39 L550.40,19.19 L551.40,19.00 L552.40,18.81 L553.40,18.63 L554.40,18.44 L555.40,18.26 L556.40,18.08 L557.40,17.91 L558.40,17.73 L559.40,17.56 L560.40,17.39 L561.40,17.23 L562.40,17.06 L563.40,16.90 L564.40,16.75 L565.40,16.59 L566.40,16.44 L567.40,16.28 L568.40,16.13 L569.40,15.99 L570.40,15.84 L571.40,15.70 L572.40,15.56 L573.40,15.42 L574.40,15.28 L575.40,15.15 L576.40,15.02 L577.40,14.89 L578.40,14.76 L579.40,14.63 L580.40,14.51 L581.40,14.39 L582.40,14.27 L583.40,14.15 L584.40,14.03 L585.40,13.92 L586.40,13.80 L587.40,13.69 L588.40,13.58 L589.40,13.47 L590.40,13.37 L591.40,13.26 L592.40,13.16 L593.40,13.06 L594.40,12.96 L595.40,12.86 L596.40,12.76 L597.40,12.67 L598.40,12.57 L599.40,12.48 L600.40,12.39 L601.40,12.30 L602.40,12.21 L603.40,12.13 L604.40,12.04 L605.40,11.96 L606.40,11.87 L607.40,11.79 L608.40,11.71 L609.40,11.63 L610.40,11.56 L611.40,11.48 L612.40,11.40 L613.40,11.33 L614.40,11.26 L615.40,11.19 L616.40,11.12 L617.40,11.05 L618.40,10.98 L619.40,10.91 L620.40,10.84 L621.40,10.78 L622.40,10.71 L623.40,10.65 L624.40,10.59 L625.40,10.53 L626.40,10.47 L627.40,10.41 L628.40,10.35 L629.40,10.29 L630.40,10.24" fill="none" stroke="#464646" stroke-width="1.6" stroke-linecap="round" stroke-linejoin="round"/>
<text x="183.8" y="29.1" class="cl">0.5</text>
<text x="183.3" y="62.0" class="cl">0.2</text>
<text x="183.4" y="93.5" class="cl">0.1</text>
<text x="416.5" y="49.1" class="cl">0.1</text>
<text x="415.8" y="102.0" class="cl">0.2</text>
<text x="415.1" y="177.0" class="cl">0.5</text>
<text x="106.9" y="251.3" class="at" style="font-size:15.2px" textLength="115.2" lengthAdjust="spacingAndGlyphs">Normalized time</text><text x="228.4" y="251.3" class="it">t/τ<tspan font-size="14.5" dy="3.8">0</tspan></text>
<text x="433.6" y="253.7" class="at" style="font-size:15.2px" textLength="115.2" lengthAdjust="spacingAndGlyphs">Normalized time</text><text x="555.0" y="253.7" class="it">t/τ<tspan font-size="14.5" dy="3.8">0</tspan></text>
<text transform="translate(14.3,209.3) rotate(-90)" class="at" style="font-size:16px" textLength="197.8" lengthAdjust="spacing">Normalized TWM amplitude</text>
<text transform="translate(339.0,222.3) rotate(-90)" class="at" style="font-size:15.8px">Normalized</text>
<text transform="translate(339.0,137.3) rotate(-90)" class="at" style="font-size:16.1px">average</text>
<text transform="translate(339.0,74.9) rotate(-90)" class="at" style="font-size:16.3px">absorption</text>
<text x="180.2" y="282.3" class="pl">a</text>
<text x="514.2" y="282.3" class="pl">b</text>
</svg>
</body></html>
